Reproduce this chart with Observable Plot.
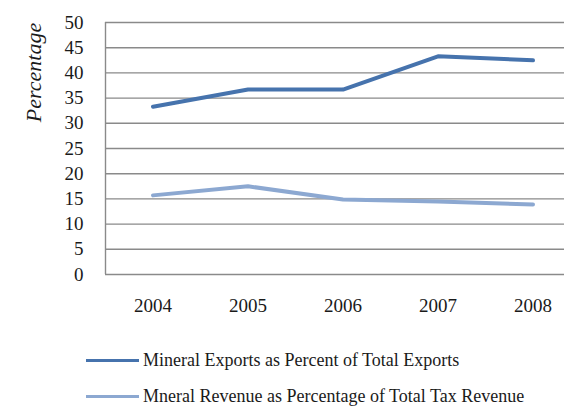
<!DOCTYPE html>
<html>
<head>
<meta charset="utf-8">
<script src="https://cdn.jsdelivr.net/npm/d3@7"></script>
<script src="https://cdn.jsdelivr.net/npm/@observablehq/plot@0.6"></script>
<style>
  html, body { margin: 0; padding: 0; background: #fff; }
  #wrap { position: relative; width: 564px; height: 408px; overflow: hidden; font-family: 'Liberation Serif', 'Times New Roman', Times, serif; }
  #wrap svg text { font-family: 'Liberation Serif', 'Times New Roman', Times, serif !important; }
  .leg { position: absolute; left: 86px; display: flex; align-items: center; font-size: 18px; line-height: 20px; color: #1a1a1a; white-space: nowrap; }
  .leg .sw { width: 53px; height: 3px; margin-right: 4px; }
</style>
</head>
<body>
<div id="wrap"></div>
<script>
const years = [2004, 2005, 2006, 2007, 2008];
const exportsShare = [33.3, 36.7, 36.7, 43.3, 42.5];
const revenueShare = [15.7, 17.5, 14.9, 14.5, 13.9];
const yTicks = [0, 5, 10, 15, 20, 25, 30, 35, 40, 45, 50];
const seriesNames = ["Mineral Exports as Percent of Total Exports", "Mneral Revenue as Percentage of Total Tax Revenue"];
const seriesColors = ["#4673ad", "#8ca8d1"];

const rows = [];
years.forEach((y, i) => {
  rows.push({year: y, value: exportsShare[i], series: seriesNames[0]});
  rows.push({year: y, value: revenueShare[i], series: seriesNames[1]});
});

// each category occupies one band of width 1 year; the plot is cut at the right edge of the picture
const xStart = years[0] - 0.5;
const xEnd = xStart + (564 - 105) / 95;

const chart = Plot.plot({
  width: 564,
  height: 330,
  marginLeft: 105,
  marginRight: 0,
  marginTop: 22,
  marginBottom: 56,
  style: {fontSize: "19px", color: "#1a1a1a", background: "#fff"},
  x: {type: "linear", domain: [xStart, xEnd], label: null},
  y: {domain: [0, 50], label: null},
  color: {domain: seriesNames, range: seriesColors},
  marks: [
    Plot.ruleY(yTicks, {stroke: "#8a8a8a", strokeWidth: 1.4}),
    Plot.ruleX([xStart], {y1: 0, y2: 50, stroke: "#8a8a8a", strokeWidth: 1.4}),
    Plot.axisY(yTicks, {tickSize: 0, tickPadding: 22, fontSize: 19, fill: "#1a1a1a"}),
    Plot.axisX(years, {tickSize: 0, tickPadding: 24, fontSize: 19, fill: "#1a1a1a", tickFormat: d => String(d)}),
    Plot.line(rows, {x: "year", y: "value", z: "series", stroke: "series", strokeWidth: 4, strokeLinecap: "round", strokeLinejoin: "round"}),
    Plot.text(["Percentage"], {frameAnchor: "top-left", dx: -80, dy: 50, rotate: -90, textAnchor: "middle", fontSize: 22, fontStyle: "italic", fill: "#1a1a1a"})
  ]
});

const wrap = document.getElementById("wrap");
wrap.appendChild(chart);
const legTops = [350, 386];
seriesNames.forEach((name, i) => {
  const row = document.createElement("div");
  row.className = "leg";
  row.style.top = legTops[i] + "px";
  const sw = document.createElement("span");
  sw.className = "sw";
  sw.style.background = seriesColors[i];
  const t = document.createElement("span");
  t.textContent = name;
  row.appendChild(sw);
  row.appendChild(t);
  wrap.appendChild(row);
});
</script>
</body>
</html>
